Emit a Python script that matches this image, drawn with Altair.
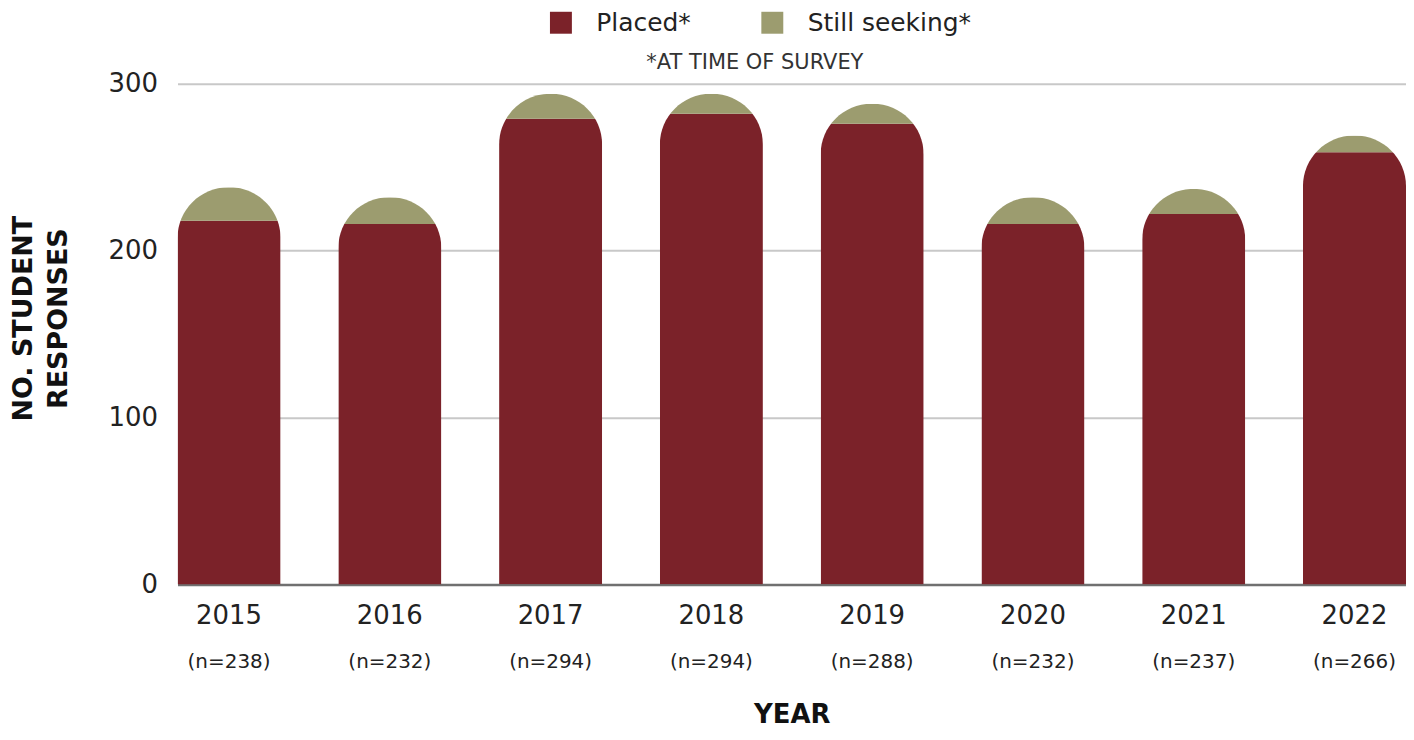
import altair as alt
import pandas as pd

years = ["2015", "2016", "2017", "2018", "2019", "2020", "2021", "2022"]
n_labels = ["(n=238)", "(n=232)", "(n=294)", "(n=294)", "(n=288)", "(n=232)", "(n=237)", "(n=266)"]
placed = [218, 216, 279, 282, 276, 216, 222, 259]
seeking = [20, 16, 15, 12, 12, 16, 15, 10]
statuses = ["Placed*", "Still seeking*"]
colors = ["#7B2229", "#9C9C6F"]

rows = []
for y, p, s in zip(years, placed, seeking):
    rows.append({"year": y, "status": statuses[0], "count": p, "ord": 0})
    rows.append({"year": y, "status": statuses[1], "count": s, "ord": 1})
df = pd.DataFrame(rows)
tot = pd.DataFrame({"year": years, "total": [p + s for p, s in zip(placed, seeking)]})

mapping = "{" + ",".join(f"'{y}':'{n}'" for y, n in zip(years, n_labels)) + "}"

W, H = 1232, 502
xscale = alt.Scale(paddingInner=0.359, paddingOuter=0)
yscale = alt.Scale(domain=[0, 300])

bars = alt.Chart(df).mark_bar(
    cornerRadiusTopLeft=51, cornerRadiusTopRight=51
).encode(
    x=alt.X("year:N", sort=years, scale=xscale,
            axis=alt.Axis(title=None, labelAngle=0, ticks=False, grid=False,
                          domainColor="#707070", domainWidth=2.5,
                          labelFont="DejaVu Sans", labelFontSize=26, labelColor="#222",
                          labelPadding=18)),
    y=alt.Y("count:Q", stack="zero", scale=yscale,
            axis=alt.Axis(values=[0, 100, 200, 300], ticks=False, domain=False,
                          gridColor="#C8C8C8", gridWidth=2,
                          labelFont="DejaVu Sans", labelFontSize=26, labelColor="#222",
                          labelPadding=20,
                          title=["NO. STUDENT", "RESPONSES"],
                          titleFont="DejaVu Sans", titleFontSize=27, titleFontWeight="bold",
                          titleColor="#111", titleLineHeight=35,
                          titleX=-167, titleY=235, titleBaseline="top", titleAlign="center",
                          titleAngle=270)),
    color=alt.Color("status:N", scale=alt.Scale(domain=statuses, range=colors),
                    legend=alt.Legend(title=None, orient="none", legendX=372, legendY=-74,
                                      direction="horizontal", symbolType="square",
                                      symbolSize=484, symbolStrokeWidth=0,
                                      labelFont="DejaVu Sans", labelFontSize=25,
                                      labelColor="#222", labelOffset=23, labelLimit=400,
                                      columnPadding=69, padding=0)),
    order=alt.Order("ord:Q"),
)

nax = alt.Chart(tot).mark_bar(opacity=0).encode(
    x=alt.X("year:N", sort=years, scale=xscale,
            axis=alt.Axis(orient="bottom", domain=False, ticks=False, grid=False,
                          labelAngle=0, labelExpr=mapping + "[datum.label]",
                          labelFont="DejaVu Sans", labelFontSize=20, labelColor="#222",
                          labelPadding=67,
                          title="YEAR", titleFont="DejaVu Sans", titleFontSize=26,
                          titleFontWeight="bold", titleColor="#111", titlePadding=31)),
    y=alt.Y("total:Q", scale=yscale),
)

chart = alt.layer(bars, nax).resolve_scale(x="independent").properties(
    width=W, height=H,
    autosize=alt.AutoSizeParams(type="none"),
    padding={"left": 170, "top": 75, "right": 0, "bottom": 146},
    title=alt.TitleParams("*AT TIME OF SURVEY", fontSize=21, font="DejaVu Sans",
                          fontWeight="normal", color="#333", anchor="middle",
                          dx=-37, dy=77, offset=14),
).configure_view(stroke=None)

chart.save("out.html", embed_options={"renderer": "svg", "actions": False})
